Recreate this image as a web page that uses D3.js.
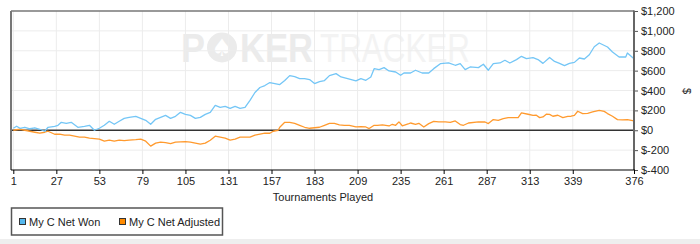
<!DOCTYPE html>
<html><head><meta charset="utf-8">
<script src="https://cdn.jsdelivr.net/npm/d3@7"></script>
<style>body{margin:0;background:#fff;} svg{display:block;font-family:"Liberation Sans",Arial,sans-serif;}</style>
</head><body><svg id="c" width="700" height="244"></svg>
<script>
const wonTournaments = [1,3,5,8,11,14,17,20,22,26,28,30,33,36,40,44,47,50,53,56,59,62,65,68,71,75,78,81,84,87,90,93,96,99,102,105,108,111,114,117,120,123,126,129,132,135,138,141,144,147,150,153,156,159,162,165,168,171,174,177,180,183,186,189,192,196,199,203,208,211,214,217,219,222,225,228,232,235,237,241,244,248,252,255,259,264,268,271,274,277,282,285,288,291,295,298,301,305,308,311,315,318,321,325,328,331,334,337,340,343,346,349,352,355,360,363,367,371,372,376];
const netWon = [20,40,20,30,15,25,10,-10,30,40,50,80,70,80,30,40,50,0,20,50,90,60,90,120,130,140,120,100,60,110,130,150,120,140,180,160,150,120,130,160,180,250,230,240,220,240,220,230,300,380,430,450,480,470,460,500,550,540,520,520,510,470,490,500,550,570,536,520,496,520,503,536,620,610,630,597,586,553,576,576,604,576,576,620,670,677,654,670,610,637,630,664,604,670,677,704,677,711,744,721,731,711,673,733,693,673,650,673,683,727,717,760,840,878,838,787,737,737,777,720];
const adjTournaments = [1,5,8,11,14,17,20,22,26,29,32,35,38,41,44,47,50,53,56,59,62,65,68,71,75,78,81,84,87,90,93,96,99,102,105,108,111,114,117,120,123,126,129,132,135,138,141,144,147,150,153,156,158,161,162,165,168,171,174,177,180,183,186,189,192,195,198,201,204,208,211,214,216,219,221,224,228,230,232,234,236,240,241,244,246,249,252,255,258,262,265,268,271,273,276,282,286,288,291,294,297,300,303,306,308,312,315,317,319,321,323,325,327,330,333,336,338,340,342,345,348,351,355,358,360,363,366,369,372,376];
const netAdjusted = [0,10,0,-10,-20,-30,-20,-10,-40,-40,-50,-50,-60,-70,-70,-80,-85,-90,-110,-100,-110,-100,-105,-100,-95,-90,-110,-160,-130,-120,-125,-135,-120,-117,-115,-120,-130,-140,-130,-100,-60,-70,-80,-100,-90,-70,-70,-70,-50,-40,-30,-30,-10,0,30,80,80,70,50,30,20,25,30,50,70,70,55,50,50,33,35,33,17,50,50,55,43,60,50,84,45,67,73,60,70,33,67,90,85,84,80,94,57,50,73,84,83,67,107,100,117,127,127,127,174,161,150,151,127,134,161,160,141,151,127,140,141,150,191,168,170,184,201,190,168,141,107,105,107,94];
const xTickValues = [1,27,53,79,105,131,157,183,209,235,261,287,313,339,376];
const yTickValues = [-400,-200,0,200,400,600,800,1000,1200];
const seriesNames = ["My C Net Won","My C Net Adjusted"];
const seriesColors = ["#74c6f6","#ff9a2e"];
const legendColors = ["#55b8ee","#ff8a00"];

const svg = d3.select("#c");
const L = 11, R = 634, T = 11, B = 170;
const x = d3.scaleLinear().domain([1,376]).range([13.3,634]);
const y = d3.scaleLinear().domain([-400,1200]).range([B,T]);

// bottom band
svg.append("rect").attr("x",0).attr("y",239).attr("width",700).attr("height",5).attr("fill","#eeeeee");

// watermark
const wm = svg.append("g");
wm.append("text").attr("x",181).attr("y",62).attr("font-size",40).attr("font-weight","bold")
  .attr("fill","#ebebeb").attr("textLength",24).attr("lengthAdjust","spacingAndGlyphs").text("P");
wm.append("circle").attr("cx",222).attr("cy",47.5).attr("r",15).attr("fill","#ebebeb");
wm.append("text").attr("x",222).attr("y",56).attr("text-anchor","middle").attr("font-size",24)
  .attr("fill","#ffffff").attr("font-family","DejaVu Sans").text("\u2660");
wm.append("text").attr("x",240).attr("y",62).attr("font-size",40).attr("font-weight","bold")
  .attr("fill","#ebebeb").attr("textLength",73).attr("lengthAdjust","spacingAndGlyphs").text("KER");
wm.append("text").attr("x",320).attr("y",62).attr("font-size",40)
  .attr("fill","#f3f3f3").attr("textLength",150).attr("lengthAdjust","spacingAndGlyphs").text("TRACKER");

// grid
svg.append("g").selectAll("line").data(xTickValues).join("line")
  .attr("x1",d=>x(d)).attr("x2",d=>x(d)).attr("y1",T).attr("y2",B)
  .attr("stroke","#ececec").attr("stroke-width",1);
svg.append("g").selectAll("line").data(yTickValues.filter(v=>v!==0&&v!==-400&&v!==1200)).join("line")
  .attr("x1",L).attr("x2",R).attr("y1",d=>y(d)).attr("y2",d=>y(d))
  .attr("stroke","#ececec").attr("stroke-width",1);

// zero line
svg.append("line").attr("x1",L).attr("x2",R).attr("y1",y(0)).attr("y2",y(0))
  .attr("stroke","#333").attr("stroke-width",1.5);

// series
const line = d3.line().x(d=>x(d[0])).y(d=>y(d[1]));
const wonData = wonTournaments.map((t,i)=>[t,netWon[i]]);
const adjData = adjTournaments.map((t,i)=>[t,netAdjusted[i]]);
svg.append("path").datum(adjData).attr("d",line).attr("fill","none")
  .attr("stroke",seriesColors[1]).attr("stroke-width",1.3).attr("stroke-linejoin","round");
svg.append("path").datum(wonData).attr("d",line).attr("fill","none")
  .attr("stroke",seriesColors[0]).attr("stroke-width",1.3).attr("stroke-linejoin","round");

// borders
svg.append("line").attr("x1",L).attr("x2",R).attr("y1",T).attr("y2",T).attr("stroke","#777").attr("stroke-width",1.5);
svg.append("line").attr("x1",L).attr("x2",L).attr("y1",T).attr("y2",B).attr("stroke","#777").attr("stroke-width",2);

// axes
const fmt = d => "$" + (d<0?"-":"") + d3.format(",")(Math.abs(d));
const yAxis = svg.append("g").attr("transform",`translate(${R},0)`)
  .call(d3.axisRight(y).tickValues(yTickValues).tickFormat(fmt).tickSize(4).tickSizeOuter(0).tickPadding(3));
yAxis.select(".domain").remove();
yAxis.selectAll(".tick line").attr("stroke","#555");
yAxis.selectAll("text").attr("font-size",11).attr("font-family","Liberation Sans, Arial, sans-serif").attr("fill","#222");
svg.append("line").attr("x1",R).attr("x2",R).attr("y1",T-0.5).attr("y2",B).attr("stroke","#666").attr("stroke-width",2);

const xAxis = svg.append("g").attr("transform",`translate(0,${B})`)
  .call(d3.axisBottom(x).tickValues(xTickValues).tickFormat(d3.format("d")).tickSize(4).tickSizeOuter(0).tickPadding(3));
xAxis.select(".domain").remove();
xAxis.selectAll(".tick line").attr("stroke","#000");
xAxis.selectAll("text").attr("font-size",11).attr("font-family","Liberation Sans, Arial, sans-serif").attr("fill","#222");
svg.append("line").attr("x1",L).attr("x2",R+1).attr("y1",B).attr("y2",B).attr("stroke","#000").attr("stroke-width",1.2);

// axis titles
svg.append("text").attr("x",323).attr("y",201).attr("text-anchor","middle").attr("font-size",11)
  .attr("fill","#222").text("Tournaments Played");
svg.append("text").attr("transform","translate(683,91) rotate(90)").attr("text-anchor","middle")
  .attr("font-size",11).attr("fill","#222").text("$");

// legend
const lg = svg.append("g");
lg.append("rect").attr("x",11.5).attr("y",208).attr("width",211).attr("height",27)
  .attr("fill","#fff").attr("stroke","#555").attr("stroke-width",1.5);
const itemX = [19,119];
seriesNames.forEach((n,i)=>{
  lg.append("rect").attr("x",itemX[i]+0.5).attr("y",218.5).attr("width",6).attr("height",6)
    .attr("fill",legendColors[i]).attr("stroke","#333").attr("stroke-width",1);
  lg.append("text").attr("x",itemX[i]+10).attr("y",225.5).attr("font-size",11).attr("fill","#222").text(n);
});
</script></body></html>
